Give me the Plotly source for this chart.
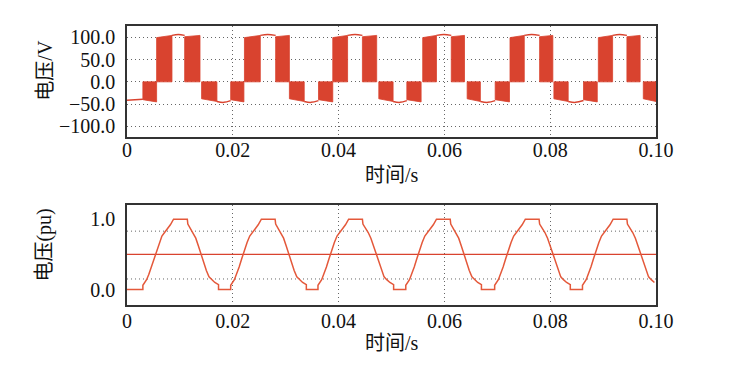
import plotly.graph_objects as go

# ---------------- data ----------------
# top panel: switching blocks (start time, end time, level at start, level at end)
blk_t0 = [0.0030, 0.0056, 0.0109, 0.0141,
          0.0196, 0.0222, 0.0281, 0.0307,
          0.0362, 0.0389, 0.0445, 0.0476,
          0.0529, 0.0559, 0.0613, 0.0643,
          0.0696, 0.0724, 0.0780, 0.0807,
          0.0863, 0.0891, 0.0945, 0.0976]
blk_t1 = [0.0056, 0.0085, 0.0138, 0.0170,
          0.0221, 0.0252, 0.0307, 0.0335,
          0.0389, 0.0417, 0.0472, 0.0503,
          0.0556, 0.0585, 0.0638, 0.0668,
          0.0723, 0.0751, 0.0805, 0.0834,
          0.0889, 0.0918, 0.0970, 0.1000]
blk_v0 = [-40, 99, 101, -38] * 6
blk_v1 = [-45, 104, 104, -44] * 6

# top panel: continuous level segments (start, middle, end)
seg_t0 = [0.0000, 0.0085, 0.0170, 0.0252, 0.0335, 0.0417, 0.0503, 0.0585, 0.0668, 0.0751, 0.0834, 0.0918]
seg_tm = [0.0015, 0.0097, 0.0183, 0.0266, 0.0348, 0.0431, 0.0516, 0.0599, 0.0682, 0.0765, 0.0848, 0.0931]
seg_t1 = [0.0030, 0.0109, 0.0196, 0.0281, 0.0362, 0.0445, 0.0529, 0.0613, 0.0696, 0.0780, 0.0863, 0.0945]
seg_v0 = [-41, 104, -44, 104, -44, 104, -44, 104, -44, 104, -44, 104]
seg_vm = [-40, 106, -46, 106, -46, 106, -46, 106, -46, 106, -46, 106]
seg_v1 = [-39, 104, -42, 104, -42, 104, -42, 104, -42, 104, -42, 104]

# bottom panel: per-unit waveform
pu_t = [0.0000,
        0.0030, 0.0030, 0.0037, 0.0041, 0.0046, 0.0051, 0.0056, 0.0061, 0.0066, 0.0071, 0.0076, 0.0082, 0.0088,
        0.0114, 0.0115, 0.0120, 0.0125, 0.0130, 0.0135, 0.0140, 0.0145, 0.0150, 0.0155, 0.0160, 0.0166, 0.0173, 0.0173,
        0.0196, 0.0196, 0.0203, 0.0207, 0.0212, 0.0217, 0.0222, 0.0227, 0.0232, 0.0237, 0.0242, 0.0248, 0.0254,
        0.0280, 0.0281, 0.0286, 0.0291, 0.0296, 0.0301, 0.0306, 0.0311, 0.0316, 0.0321, 0.0326, 0.0332, 0.0339, 0.0339,
        0.0361, 0.0361, 0.0368, 0.0372, 0.0377, 0.0382, 0.0387, 0.0392, 0.0397, 0.0402, 0.0407, 0.0413, 0.0419,
        0.0445, 0.0446, 0.0451, 0.0456, 0.0461, 0.0466, 0.0471, 0.0476, 0.0481, 0.0486, 0.0491, 0.0497, 0.0504, 0.0504,
        0.0527, 0.0527, 0.0534, 0.0538, 0.0543, 0.0548, 0.0553, 0.0558, 0.0563, 0.0568, 0.0573, 0.0579, 0.0585,
        0.0611, 0.0612, 0.0617, 0.0622, 0.0627, 0.0632, 0.0637, 0.0642, 0.0647, 0.0652, 0.0657, 0.0663, 0.0670, 0.0670,
        0.0695, 0.0695, 0.0702, 0.0706, 0.0711, 0.0716, 0.0721, 0.0726, 0.0731, 0.0736, 0.0741, 0.0747, 0.0753,
        0.0779, 0.0780, 0.0785, 0.0790, 0.0795, 0.0800, 0.0805, 0.0810, 0.0815, 0.0820, 0.0825, 0.0831, 0.0838, 0.0838,
        0.0861, 0.0861, 0.0868, 0.0872, 0.0877, 0.0882, 0.0887, 0.0892, 0.0897, 0.0902, 0.0907, 0.0913, 0.0919,
        0.0945, 0.0946, 0.0951, 0.0956, 0.0961, 0.0966, 0.0971, 0.0976, 0.0981, 0.0986, 0.0991, 0.0997, 0.1000]
pu_v = [0.00,
        0.00, 0.06, 0.14, 0.21, 0.32, 0.44, 0.56, 0.67, 0.76, 0.81, 0.86, 0.92, 1.00,
        1.00, 0.93, 0.87, 0.81, 0.73, 0.62, 0.50, 0.38, 0.27, 0.18, 0.14, 0.10, 0.07, 0.00,
        0.00, 0.06, 0.14, 0.21, 0.32, 0.44, 0.56, 0.67, 0.76, 0.81, 0.86, 0.92, 1.00,
        1.00, 0.93, 0.87, 0.81, 0.73, 0.62, 0.50, 0.38, 0.27, 0.18, 0.14, 0.10, 0.07, 0.00,
        0.00, 0.06, 0.14, 0.21, 0.32, 0.44, 0.56, 0.67, 0.76, 0.81, 0.86, 0.92, 1.00,
        1.00, 0.93, 0.87, 0.81, 0.73, 0.62, 0.50, 0.38, 0.27, 0.18, 0.14, 0.10, 0.07, 0.00,
        0.00, 0.06, 0.14, 0.21, 0.32, 0.44, 0.56, 0.67, 0.76, 0.81, 0.86, 0.92, 1.00,
        1.00, 0.93, 0.87, 0.81, 0.73, 0.62, 0.50, 0.38, 0.27, 0.18, 0.14, 0.10, 0.07, 0.00,
        0.00, 0.06, 0.14, 0.21, 0.32, 0.44, 0.56, 0.67, 0.76, 0.81, 0.86, 0.92, 1.00,
        1.00, 0.93, 0.87, 0.81, 0.73, 0.62, 0.50, 0.38, 0.27, 0.18, 0.14, 0.10, 0.07, 0.00,
        0.00, 0.06, 0.14, 0.21, 0.32, 0.44, 0.56, 0.67, 0.76, 0.81, 0.86, 0.92, 1.00,
        1.00, 0.93, 0.87, 0.81, 0.73, 0.62, 0.50, 0.38, 0.27, 0.18, 0.14, 0.10]
pu_mean_t = [0.0, 0.1]
pu_mean_v = [0.5, 0.5]
pu_grid = [0.15, 0.83]

x_ticks = [0, 0.02, 0.04, 0.06, 0.08, 0.10]
x_ticktext = ["0", "0.02", "0.04", "0.06", "0.08", "0.10"]
v_ticks = [100, 50, 0, -50, -100]
v_ticktext = ["100.0", "50.0", "0.0", "\u221250.0", "\u2212100.0"]
pu_ticks = [0, 1]
pu_ticktext = ["0.0", "1.0"]

# ---------------- figure ----------------
RED = "#D9432F"
CURVE = "#E4583A"
FONT = "Liberation Serif, Noto Sans CJK SC, serif"
GRID = "#666666"
DOT = "1px,3px"

bx, by = [], []
for t0, t1, v0, v1 in zip(blk_t0, blk_t1, blk_v0, blk_v1):
    bx += [t0, t0, t1, t1, t0, None]
    by += [0, v0, v1, 0, 0, None]

lx, ly = [], []
for a, m, b, va, vm, vb in zip(seg_t0, seg_tm, seg_t1, seg_v0, seg_vm, seg_v1):
    lx += [a, m, b, None]
    ly += [va, vm, vb, None]

fig = go.Figure()
fig.add_trace(go.Scatter(x=bx, y=by, mode="lines", fill="toself", fillcolor=RED,
                         line=dict(color=RED, width=0.8), xaxis="x", yaxis="y",
                         hoverinfo="skip", showlegend=False))
fig.add_trace(go.Scatter(x=lx, y=ly, mode="lines", line=dict(color=RED, width=1.5, shape="spline"),
                         xaxis="x", yaxis="y", showlegend=False))
fig.add_trace(go.Scatter(x=pu_mean_t, y=pu_mean_v, mode="lines", line=dict(color=RED, width=1.2),
                         xaxis="x2", yaxis="y2", showlegend=False))
fig.add_trace(go.Scatter(x=pu_t, y=pu_v, mode="lines", line=dict(color=CURVE, width=1.5),
                         xaxis="x2", yaxis="y2", showlegend=False))

axis_common = dict(showline=True, mirror=True, linecolor="#333333", linewidth=1.5,
                   ticks="", ticklen=0, zeroline=False,
                   tickfont=dict(family=FONT, size=20, color="#111111"))

fig.update_layout(
    width=744, height=357,
    margin=dict(l=119, r=96, t=18, b=60),
    paper_bgcolor="white", plot_bgcolor="white",
    showlegend=False,
    xaxis=dict(domain=[0, 1], anchor="y", range=[0, 0.1], tickvals=x_ticks, ticktext=x_ticktext,
               showgrid=True, griddash=DOT, gridcolor=GRID, gridwidth=1, ticklabelstandoff=-6,
               **axis_common),
    yaxis=dict(domain=[0.603, 1], anchor="x", range=[-123, 125], tickvals=v_ticks, ticktext=v_ticktext,
               showgrid=True, griddash=DOT, gridcolor=GRID, gridwidth=1, ticklabelstandoff=6,
               **axis_common),
    xaxis2=dict(domain=[0, 1], anchor="y2", range=[0, 0.1], tickvals=x_ticks, ticktext=x_ticktext,
                showgrid=True, griddash=DOT, gridcolor=GRID, gridwidth=1, ticklabelstandoff=-3,
                **axis_common),
    yaxis2=dict(domain=[0, 0.358], anchor="x2", range=[-0.22, 1.2], tickvals=pu_ticks, ticktext=pu_ticktext,
                showgrid=False, ticklabelstandoff=6, **axis_common),
)

for g in pu_grid:
    fig.add_shape(type="line", xref="x2 domain", yref="y2", x0=0, x1=1, y0=g, y1=g,
                  line=dict(color=GRID, width=1, dash=DOT), layer="below")

title_font = dict(family=FONT, size=20, color="#111111")
fig.add_annotation(text="电压/V", xref="paper", yref="paper", x=-0.155, y=0.84, textangle=-90,
                   showarrow=False, xanchor="center", yanchor="middle", font=title_font)
fig.add_annotation(text="电压(pu)", xref="paper", yref="paper", x=-0.155, y=0.213, textangle=-90,
                   showarrow=False, xanchor="center", yanchor="middle", font=title_font)
fig.add_annotation(text="时间/s", xref="paper", yref="paper", x=0.5, y=0.466,
                   showarrow=False, xanchor="center", yanchor="middle", font=title_font)
fig.add_annotation(text="时间/s", xref="paper", yref="paper", x=0.5, y=-0.136,
                   showarrow=False, xanchor="center", yanchor="middle", font=title_font)

fig.write_html("out.html")
